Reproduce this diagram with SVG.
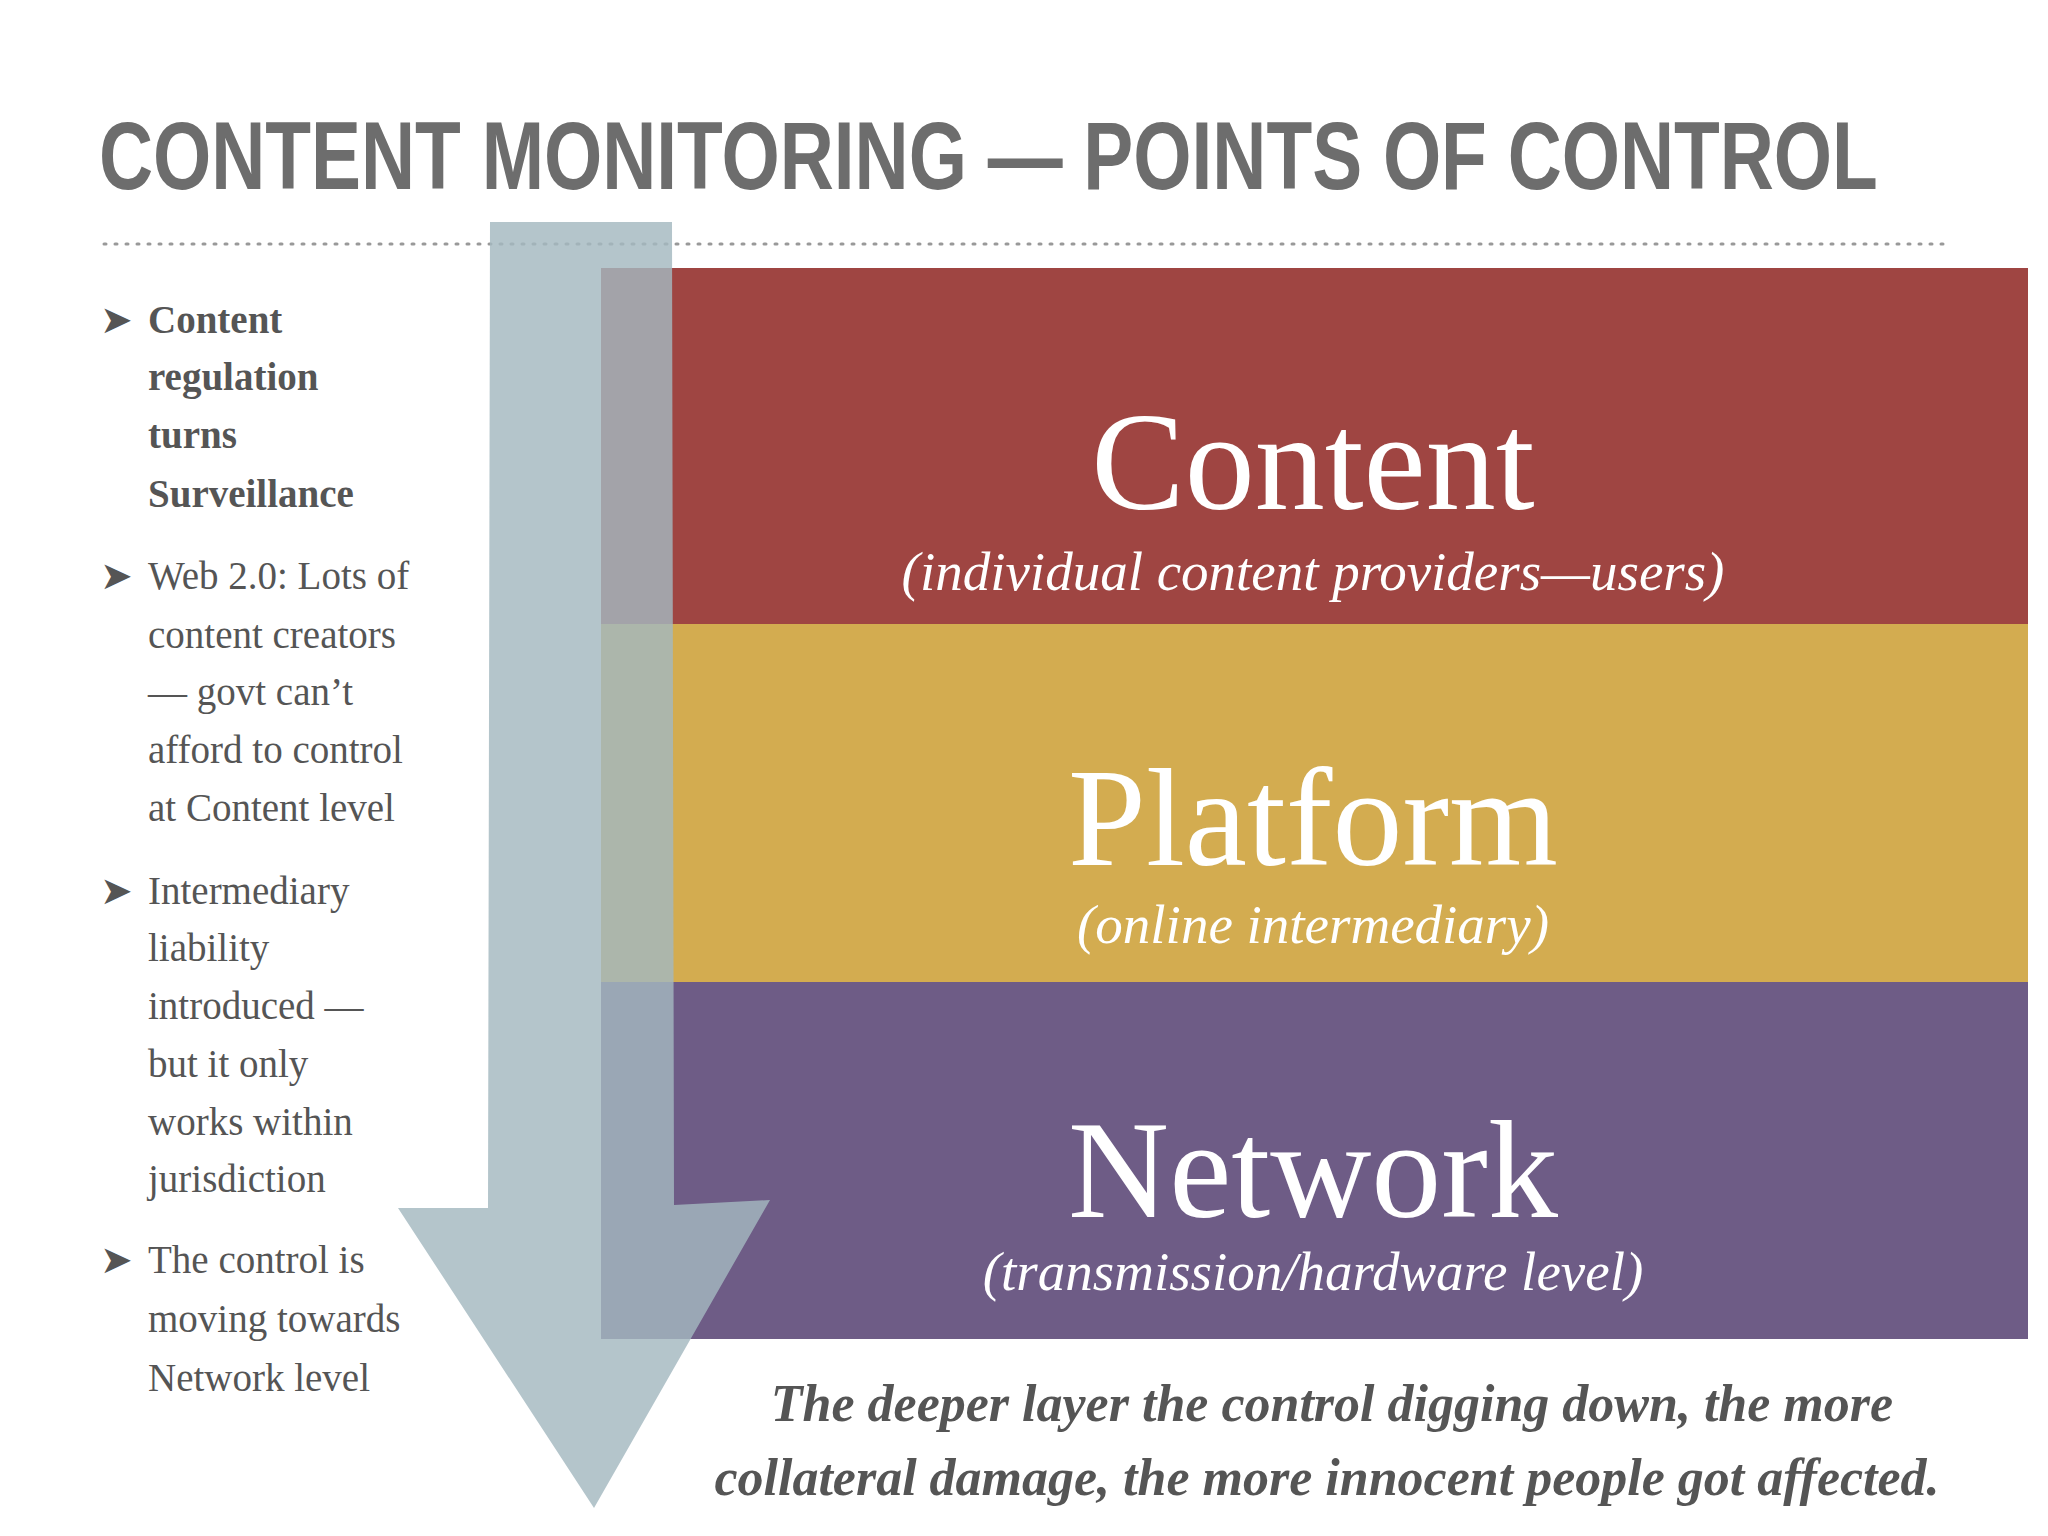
<svg xmlns="http://www.w3.org/2000/svg" width="2048" height="1536" viewBox="0 0 2048 1536">
<style>
.b{font-family:"Liberation Serif",serif;font-size:39px;fill:#555}
.bb{font-weight:bold}
.big{font-family:"Liberation Serif",serif;font-size:140px;fill:#fff;text-anchor:middle}
.sub{font-family:"Liberation Serif",serif;font-style:italic;font-size:55px;fill:#fff;text-anchor:middle}
.bot{font-family:"Liberation Serif",serif;font-style:italic;font-weight:bold;font-size:52px;fill:#555;text-anchor:middle}
</style>
<rect width="2048" height="1536" fill="#fff"/>
<text x="99" y="189" transform="translate(99 0) scale(0.78 1) translate(-99 0)" font-family="Liberation Sans,sans-serif" font-weight="bold" font-size="96" fill="#6d6d6d">CONTENT MONITORING — POINTS OF CONTROL</text>
<line x1="104" y1="244" x2="1946" y2="244" stroke="#999" stroke-width="3" stroke-dasharray="2 9" stroke-linecap="round"/>
<g id="content"><rect x="601" y="268" width="1427" height="356" fill="#9f4542"/>
<text class="big" x="1313" y="509">Content</text><text class="sub" x="1313" y="590">(individual content providers—users)</text></g>
<g id="platform"><rect x="601" y="624" width="1427" height="358" fill="#d3ac50"/>
<text class="big" x="1313" y="865">Platform</text><text class="sub" x="1313" y="943">(online intermediary)</text></g>
<g id="network"><rect x="601" y="982" width="1427" height="357" fill="#6e5c86"/>
<text class="big" x="1313" y="1217">Network</text><text class="sub" x="1313" y="1290">(transmission/hardware level)</text></g>
<g id="bullets" class="b">
<text x="100" y="333">➤</text><text x="100" y="589">➤</text><text x="100" y="904">➤</text><text x="100" y="1273">➤</text>
<g class="bb"><text x="148" y="333">Content</text><text x="148" y="390">regulation</text><text x="148" y="448">turns</text><text x="148" y="507">Surveillance</text></g>
<text x="148" y="589">Web 2.0: Lots of</text><text x="148" y="648">content creators</text><text x="148" y="705">— govt can’t</text><text x="148" y="763">afford to control</text><text x="148" y="821">at Content level</text>
<text x="148" y="904">Intermediary</text><text x="148" y="961">liability</text><text x="148" y="1019">introduced —</text><text x="148" y="1077">but it only</text><text x="148" y="1135">works within</text><text x="148" y="1192">jurisdiction</text>
<text x="148" y="1273">The control is</text><text x="148" y="1332">moving towards</text><text x="148" y="1391">Network level</text>
</g>
<g id="connectors"><path d="M490 222 L672 222 L674 1205 L770 1200 L594 1508 L398 1208 L488 1208 Z" fill="#a4b8bf" fill-opacity="0.82"/></g>
<g id="caption"><text class="bot" x="1332" y="1421">The deeper layer the control digging down, the more</text>
<text class="bot" x="1327" y="1495">collateral damage, the more innocent people got affected.</text></g>
</svg>
